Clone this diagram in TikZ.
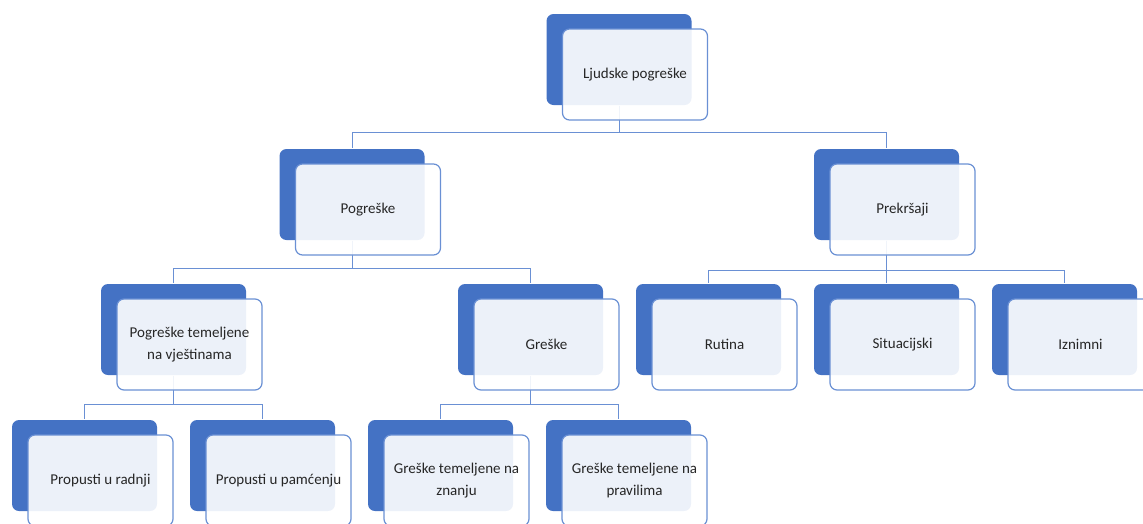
\documentclass[tikz,border=0pt]{standalone}
\usepackage{fontspec}
\setmainfont{Carlito}
\usepackage{tikz}
\usepackage{xcolor}
\definecolor{FontColor}{HTML}{262626}
\definecolor{BlueSA}{HTML}{4472C4}
\definecolor{LineSA}{HTML}{6A90D4}
\newcommand\nodelp{Ljudske pogreške}
\newcommand\nodepg{Pogreške}
\newcommand\nodepk{Prekršaji}
\newcommand\nodepv{Pogreške temeljene\\na vještinama}
\newcommand\nodegr{Greške}
\newcommand\noderu{Rutina}
\newcommand\nodesi{Situacijski}
\newcommand\nodeiz{Iznimni}
\newcommand\nodepr{Propusti u radnji}
\newcommand\nodepp{Propusti u pamćenju}
\newcommand\nodegz{Greške temeljene na\\znanju}
\newcommand\nodegp{Greške temeljene na\\pravilima}
\tikzstyle{boxstyle} = [rectangle, rounded corners=7pt, minimum width=145pt, minimum height=91pt, inner sep=0pt]
\tikzstyle{db} = [boxstyle, fill=BlueSA]
\tikzstyle{lb} = [boxstyle, draw=LineSA, fill=white, fill opacity=0.9, text opacity=1, text=FontColor, align=center, font=\fontsize{15}{21.5}\selectfont, xshift=16pt, yshift=-15pt]
\tikzstyle{con} = [draw=LineSA, line width=1pt]
\tikzset{every picture/.style={line width=1.2pt}}

\begin{document}
\begin{tikzpicture}[x=1pt, y=-1pt]
\useasboundingbox (0,0) rectangle (1143,523);
% dark back boxes
\node[db] (lp) at (619, 59.5) {};
\node[db] (pg) at (352, 194.5) {};
\node[db] (pk) at (886.5, 194.5) {};
\node[db] (pv) at (173.5, 329.5) {};
\node[db] (gr) at (530.5, 329.5) {};
\node[db] (ru) at (708.5, 329.5) {};
\node[db] (si) at (886.5, 329.5) {};
\node[db] (iz) at (1064.5, 329.5) {};
\node[db] (pr) at (84.5, 465.5) {};
\node[db] (pp) at (262.5, 465.5) {};
\node[db] (gz) at (440.5, 465.5) {};
\node[db] (gp) at (618.5, 465.5) {};
% connectors
\draw[con] (lp.south) -- ++(0,27) -| (pg.north);
\draw[con] (lp.south) -- ++(0,27) -| (pk.north);
\draw[con] (pg.south) -- ++(0,28) -| (pv.north);
\draw[con] (pg.south) -- ++(0,28) -| (gr.north);
\draw[con] (pk.south) -- ++(0,30) -| (ru.north);
\draw[con] (pk.south) -- ++(0,30) -| (si.north);
\draw[con] (pk.south) -- ++(0,30) -| (iz.north);
\draw[con] (pv.south) -- ++(0,29) -| (pr.north);
\draw[con] (pv.south) -- ++(0,29) -| (pp.north);
\draw[con] (gr.south) -- ++(0,29) -| (gz.north);
\draw[con] (gr.south) -- ++(0,29) -| (gp.north);
% light front boxes
\node[lb] (lpt) at (lp) {\nodelp};
\node[lb] (pgt) at (pg) {\nodepg};
\node[lb] (pkt) at (pk) {\nodepk};
\node[lb] (pvt) at (pv) {\nodepv};
\node[lb] (grt) at (gr) {\nodegr};
\node[lb] (rut) at (ru) {\noderu};
\node[lb] (sit) at (si) {\nodesi};
\node[lb] (izt) at (iz) {\nodeiz};
\node[lb] (prt) at (pr) {\nodepr};
\node[lb] (ppt) at (pp) {\nodepp};
\node[lb] (gzt) at (gz) {\nodegz};
\node[lb] (gpt) at (gp) {\nodegp};
\end{tikzpicture}
\end{document}
